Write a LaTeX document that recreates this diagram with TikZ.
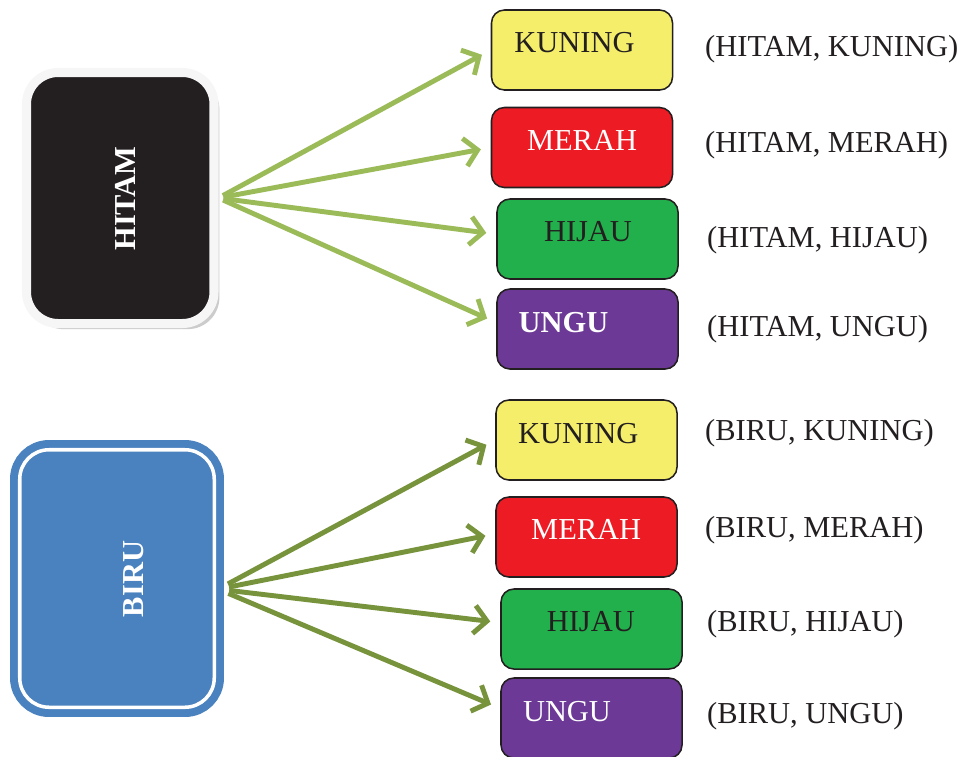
\documentclass[tikz,border=0pt]{standalone}
\usepackage{fontspec}
\setmainfont{Liberation Serif}
\usetikzlibrary{arrows.meta,shadows}

\definecolor{hitam}{HTML}{231F20}
\definecolor{biru}{HTML}{4A81BF}
\definecolor{kuning}{HTML}{F4EE6A}
\definecolor{merah}{HTML}{ED1C24}
\definecolor{hijau}{HTML}{21B04B}
\definecolor{ungu}{HTML}{6C3996}
\definecolor{hijaumuda}{HTML}{9BBB59}
\definecolor{hijautua}{HTML}{77933C}

\tikzset{
  kotak/.style={draw=hitam, line width=1.3pt, rounded corners=11pt, inner sep=0pt,
    minimum width=5.43cm, minimum height=2.4cm},
  tulisan/.style={font=\fontsize{26}{30}\selectfont, inner sep=0pt, anchor=base},
  pasangan/.style={font=\fontsize{26}{30}\selectfont, inner sep=0pt, anchor=base west},
  panah/.style={line width=4.2pt, -{Straight Barb[length=11pt,width=24pt]}, shorten >=0.3cm}
}

\begin{document}
\begin{tikzpicture}[x=0.03cm, y=-0.03cm]
    \useasboundingbox (0,0) rectangle (961,756);

    % kotak kiri
    \node[draw=gray!7, line width=7.7pt, fill=hitam, rounded corners=27pt,
      minimum width=5.625cm, minimum height=7.53cm,
      drop shadow={shadow xshift=4.6pt, shadow yshift=-4.8pt, fill=gray!50, opacity=0.8}]
      (hitam) at (120.25,198) {};
    \node[draw=biru, line width=6.8pt, double=white, double distance=3pt, fill=biru,
      rounded corners=25pt, minimum width=5.835cm, minimum height=7.725cm]
      (biru) at (117,578.5) {};
    \node[tulisan, anchor=center, rotate=90, text=white,
      font=\bfseries\fontsize{26}{30}\selectfont] (thitam) at (125,198.5) {HITAM};
    \node[tulisan, anchor=center, rotate=90, text=white,
      font=\bfseries\fontsize{26}{30}\selectfont] (tbiru) at (133.5,579) {BIRU};

    % kotak warna kanan
    \foreach \nama/\warna/\x/\y in {k1/kuning/582/50, m1/merah/582/147.5,
      h1/hijau/587.5/239, u1/ungu/587.5/329, k2/kuning/586.5/440,
      m2/merah/586.5/537, h2/hijau/591.5/629, u2/ungu/591.5/718}
    \node[kotak, fill=\warna] (\nama) at (\x,\y) {};

    \foreach \nama/\isi/\tw/\x/\y in {k1/KUNING/hitam/574.5/52.7,
      m1/MERAH/white/582/150, h1/HIJAU/hitam/588/241.5,
      u1/{\bfseries UNGU}/white/563.5/332.5, k2/KUNING/hitam/578.3/443.3,
      m2/MERAH/white/586.2/539.3, h2/HIJAU/hitam/590.8/631.5,
      u2/UNGU/white/567/721.5}
    \node[tulisan, text=\tw] (t\nama) at (\x,\y) {\isi};

    % pasangan
    \foreach \nama/\isi/\x/\y in {p1/{(HITAM, KUNING)}/705/56.5,
      p2/{(HITAM, MERAH)}/705/152.5, p3/{(HITAM, HIJAU)}/707/247.5,
      p4/{(HITAM, UNGU)}/707/336, p5/{(BIRU, KUNING)}/705/440,
      p6/{(BIRU, MERAH)}/705/537, p7/{(BIRU, HIJAU)}/707/631,
      p8/{(BIRU, UNGU)}/707/723}
    \node[pasangan, text=hitam] (\nama) at (\x,\y) {\isi};

    % panah
    \foreach \t in {k1.west, m1.west, h1.177, u1.176}
    \draw[panah, draw=hijaumuda, shorten <=0.15cm] (hitam.east) -- (\t);
    \foreach \t in {k2.west, m2.178, h2.176, u2.174}
    \draw[panah, draw=hijautua, shorten <=0.33cm] (biru.-6) -- (\t);

\end{tikzpicture}
\end{document}
